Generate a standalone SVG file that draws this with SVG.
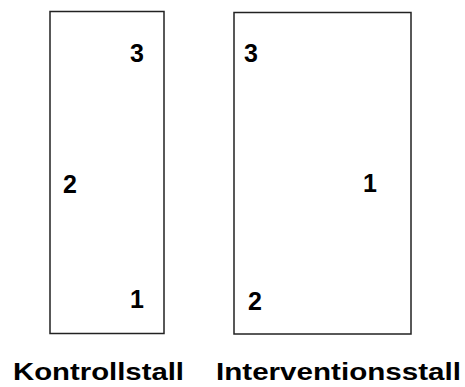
<svg xmlns="http://www.w3.org/2000/svg" width="465" height="387" viewBox="0 0 465 387">
<style>
.box{fill:#fff;stroke:#222;stroke-width:1.5}
.num{font-family:"Liberation Sans",Arial,sans-serif;font-weight:bold;font-size:25px;fill:#000}
.lbl{font-family:"Liberation Sans",Arial,sans-serif;font-weight:bold;font-size:23px;fill:#000}
</style>
<rect width="465" height="387" fill="#fff"/>
<g id="kontrollstall">
<rect class="box" x="50" y="11.5" width="114" height="322"/>
<text class="num" x="130" y="62">3</text>
<text class="num" x="63" y="193">2</text>
<text class="num" x="130" y="308">1</text>
<text class="lbl" x="13" y="380" textLength="171" lengthAdjust="spacingAndGlyphs">Kontrollstall</text>
</g>
<g id="interventionsstall">
<rect class="box" x="234" y="12.5" width="177" height="321.5"/>
<text class="num" x="244" y="62">3</text>
<text class="num" x="363" y="192">1</text>
<text class="num" x="248" y="310">2</text>
<text class="lbl" x="216" y="380" textLength="245" lengthAdjust="spacingAndGlyphs">Interventionsstall</text>
</g>
<g id="connectors"/>
</svg>
